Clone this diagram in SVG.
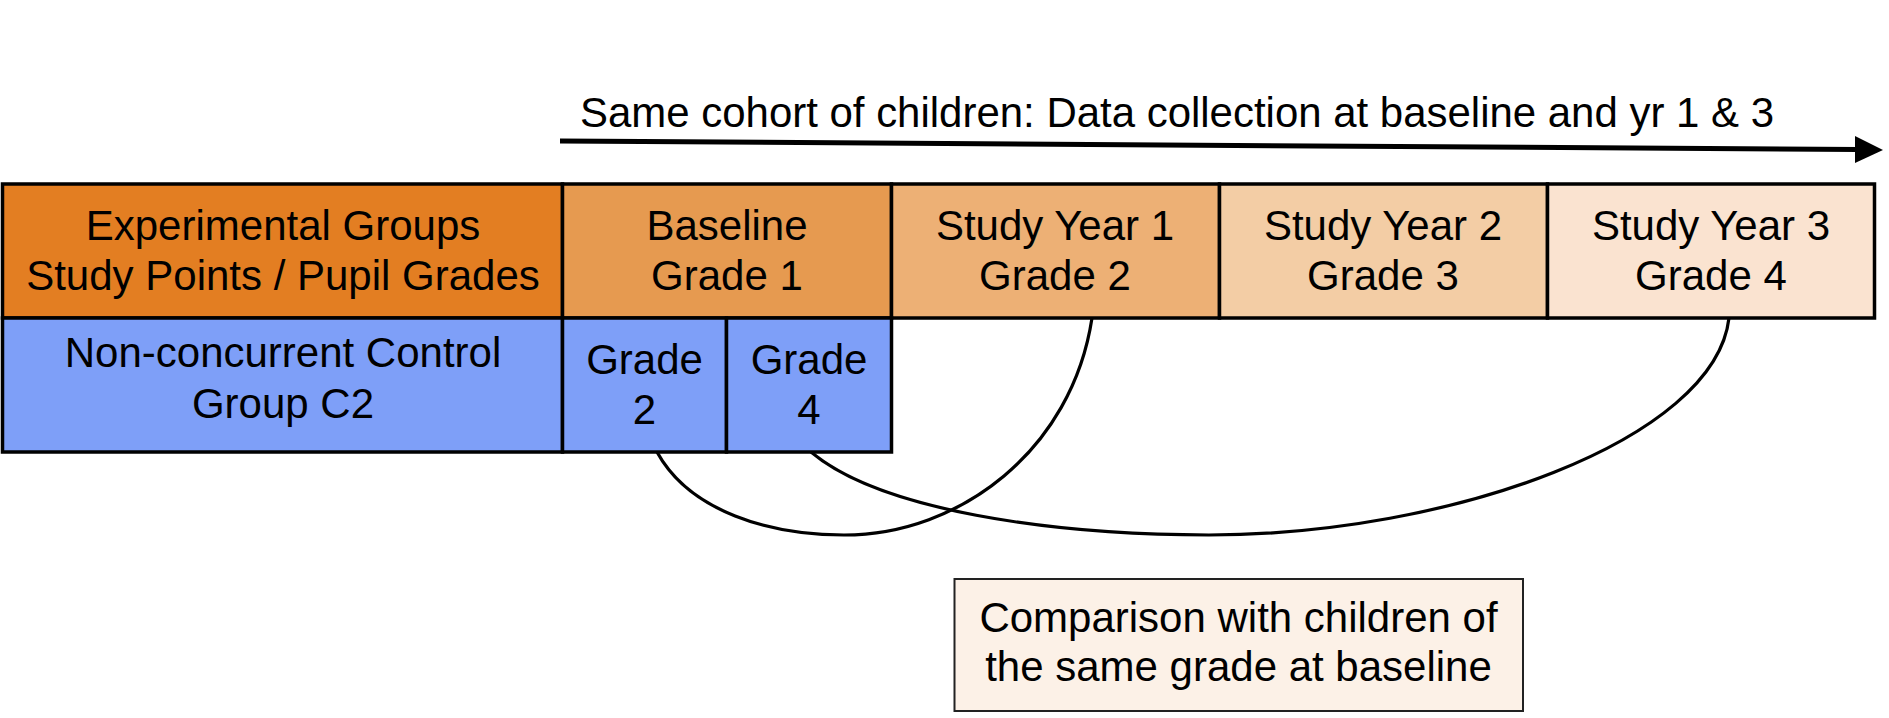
<svg xmlns="http://www.w3.org/2000/svg" width="1889" height="718" viewBox="0 0 1889 718">
<style>
.cell{stroke:#000;stroke-width:3.5}
.t{font-family:"Liberation Sans",Arial,Helvetica,sans-serif;font-size:42px;fill:#000;text-anchor:middle}
.conn{fill:none;stroke:#000;stroke-width:3.2}
</style>
<rect width="1889" height="718" fill="#fff"/>
<g id="title">
<text class="t" x="1177" y="127" textLength="1194" lengthAdjust="spacingAndGlyphs">Same cohort of children: Data collection at baseline and yr 1 &amp; 3</text>
</g>
<g id="connectors">
<path d="M560,141 L1858,149.5" stroke="#000" stroke-width="5" fill="none"/>
<path d="M1855,136 L1883,150 L1855,163 Z" fill="#000"/>
<path class="conn" d="M657,452 C690,512 770,535 844,535 C960,535 1072,450 1092,318"/>
<path class="conn" d="M811,452 C880,510 1050,535 1209,535 C1450,535 1715,440 1729,318"/>
</g>
<g id="experimental-groups">
<rect class="cell" x="2.5" y="184" width="560" height="134" fill="#E37E22"/>
<text class="t" x="283" y="240">Experimental Groups</text>
<text class="t" x="283" y="290">Study Points / Pupil Grades</text>
</g>
<g id="baseline">
<rect class="cell" x="562.5" y="184" width="329" height="134" fill="#E69A50"/>
<text class="t" x="727" y="240">Baseline</text>
<text class="t" x="727" y="290">Grade 1</text>
</g>
<g id="study-year-1">
<rect class="cell" x="891.5" y="184" width="328" height="134" fill="#EDB075"/>
<text class="t" x="1055" y="240">Study Year 1</text>
<text class="t" x="1055" y="290">Grade 2</text>
</g>
<g id="study-year-2">
<rect class="cell" x="1219.5" y="184" width="328" height="134" fill="#F3CDA5"/>
<text class="t" x="1383" y="240">Study Year 2</text>
<text class="t" x="1383" y="290">Grade 3</text>
</g>
<g id="study-year-3">
<rect class="cell" x="1547.5" y="184" width="327" height="134" fill="#FAE3D0"/>
<text class="t" x="1711" y="240">Study Year 3</text>
<text class="t" x="1711" y="290">Grade 4</text>
</g>
<g id="control-group">
<rect class="cell" x="2.5" y="318" width="560" height="134" fill="#7E9FF8"/>
<text class="t" x="283" y="367">Non-concurrent Control</text>
<text class="t" x="283" y="418">Group C2</text>
</g>
<g id="control-grade-2">
<rect class="cell" x="562.5" y="318" width="164" height="134" fill="#7E9FF8"/>
<text class="t" x="644.5" y="374">Grade</text>
<text class="t" x="644.5" y="424">2</text>
</g>
<g id="control-grade-4">
<rect class="cell" x="726.5" y="318" width="165" height="134" fill="#7E9FF8"/>
<text class="t" x="809" y="374">Grade</text>
<text class="t" x="809" y="424">4</text>
</g>
<g id="comparison-note">
<rect x="954.5" y="579" width="568.5" height="132" fill="#FCF1E7" stroke="#222" stroke-width="2"/>
<text class="t" x="1238.5" y="632">Comparison with children of</text>
<text class="t" x="1238.5" y="681">the same grade at baseline</text>
</g>
</svg>
